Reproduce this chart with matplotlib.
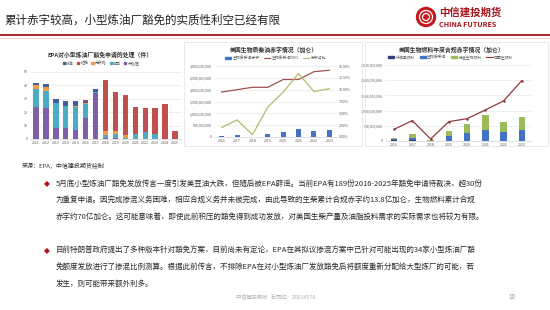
import matplotlib
matplotlib.use("Agg")
import matplotlib.pyplot as plt
import matplotlib.patches as mpatches
import numpy as np

plt.rcParams['font.family'] = ['Noto Sans CJK SC', 'DejaVu Sans']

# ---- chart 1: EPA small refinery exemption decisions (count)
years1 = ['2011', '2012', '2013', '2014', '2015', '2016', '2017', '2018',
          '2019', '2020', '2021', '2022', '2023', '2024', '2025']
s1_names = ['批准', '拒绝', '无资格', '撤回', '未处理']
purple = [24, 23, 8, 8, 7, 16, 34, 1, 1, 0, 0, 0, 0, 0, 0]
teal = [13, 13, 19, 17, 17, 10, 1, 2, 3, 1, 4, 5, 4, 0, 0]
orange = [3, 3, 0, 0, 1, 1, 0, 3, 2, 2, 0, 0, 0, 0, 0]
navy = [2, 2, 3, 3, 3, 1, 2, 0, 0, 0, 0, 0, 0, 0, 0]
red = [0, 0, 0, 0, 0, 1, 0, 38, 29, 30, 20, 18, 19, 26, 6]

# ---- chart 2: biomass-based diesel deficit (gallons)
years2 = ['2016', '2017', '2018', '2019', '2020', '2021', '2022', '2023']
bbd_deficit = [38e6, 72e6, 10e6, 132e6, 231e6, 326e6, 265e6, 288e6]
bbd_rvo = [1.90e9, 2.00e9, 2.10e9, 2.10e9, 2.43e9, 2.43e9, 2.76e9, 2.82e9]
deficit_pct = [2.0, 3.6, 0.5, 6.3, 9.5, 13.4, 9.6, 10.2]

# ---- chart 3: annual compliance deficit by category (gallons)
cellulosic = [20e6, 40e6, 5e6, 10e6, 10e6, 10e6, 10e6, 10e6]
bbd = [30e6, 60e6, 10e6, 140e6, 240e6, 360e6, 280e6, 360e6]
advanced = [40e6, 130e6, 15e6, 190e6, 310e6, 500e6, 350e6, 430e6]
renewable = [385e6, 670e6, 66e6, 637e6, 736e6, 1.02e9, 1.32e9, 1.99e9]

W, H = 550, 310
fig = plt.figure(figsize=(5.5, 3.1), dpi=100)
fig.patch.set_facecolor('white')


def px(x, y):
    return x / W, 1 - y / H


def axes_px(x0, y0, x1, y1):
    return fig.add_axes([x0 / W, 1 - y1 / H, (x1 - x0) / W, (y1 - y0) / H])


def style(ax):
    for s in ['top', 'right', 'left']:
        ax.spines[s].set_visible(False)
    ax.spines['bottom'].set_color('#d0d0d0')
    ax.spines['bottom'].set_linewidth(0.5)
    ax.tick_params(length=0, labelsize=2.6, colors='#595959', pad=1.5)
    ax.grid(axis='y', color='#e4e4e4', linewidth=0.4)
    ax.set_axisbelow(True)


# header
fig.text(*px(4, 20), '累计赤字较高，小型炼油厂豁免的实质性利空已经有限',
         fontsize=8.3, color='#222222', va='center', ha='left')
fig.add_artist(plt.Line2D([0, 1], [1 - 35 / H] * 2, color='#a3151b', lw=1.3))
fig.add_artist(plt.Line2D([0, 1], [1 - 37.5 / H] * 2, color='#f0d5d5', lw=0.8))

# logo
lx, ly = px(426, 17)
fig.add_artist(mpatches.Ellipse((lx, ly), 19 / W, 19 / H, color='#c8161d'))
for r in [6.5, 3.5]:
    fig.add_artist(mpatches.Ellipse((lx, ly), 2 * r / W, 2 * r / H, fill=False,
                                    ec='white', lw=0.9))
fig.text(*px(439, 13), '中信建投期货', fontsize=7.5, color='#a3151b',
         va='center', ha='left', fontweight='bold')
fig.text(*px(439, 24.5), 'CHINA FUTURES', fontsize=5.2, color='#a3151b',
         va='center', ha='left', fontweight='bold')

# ---- chart 1
ax1 = axes_px(30, 72, 181, 139)
style(ax1)
x = np.arange(len(years1))
stack = [(purple, '#7f5fa8'), (teal, '#4bacc6'), (orange, '#f39c4a'),
         (navy, '#3f5f9f'), (red, '#c0504d')]
bottom = np.zeros(len(years1))
for vals, c in stack:
    ax1.bar(x, vals, 0.55, bottom=bottom, color=c)
    bottom += np.array(vals)
ax1.set_ylim(0, 50)
ax1.set_yticks(range(0, 51, 10))
ax1.set_xlim(-0.6, len(years1) - 0.4)
ax1.set_xticks(x)
ax1.set_xticklabels(years1)
fig.text(*px(100, 55), 'EPA对小型炼油厂豁免申请的处理（件）', fontsize=4.2,
         fontweight='bold', color='#333333', ha='center', va='center')
leg_cols1 = ['#3f5f9f', '#c0504d', '#f39c4a', '#4bacc6', '#7f5fa8']
h1 = [mpatches.Patch(color=c) for c in leg_cols1]
ax1.legend(h1, s1_names, loc='center', bbox_to_anchor=(0.47, 1.13), ncol=5,
           frameon=False, fontsize=2.8, handlelength=0.6, handleheight=0.6,
           columnspacing=0.8, handletextpad=0.3, labelcolor='#595959')

# ---- chart 2
fig.add_artist(mpatches.Rectangle(px(184, 146), 178 / W, 104 / H, fill=False,
                                  ec='#e2e2e2', lw=0.5))
ax2 = axes_px(214, 66, 337, 137)
style(ax2)
x2 = np.arange(len(years2))
ax2.bar(x2, bbd_deficit, 0.33, color='#4472c4')
ax2.plot(x2, bbd_rvo, color='#a0504d', lw=0.9)
ax2.set_ylim(0, 3e9)
ax2.set_yticks(np.arange(0, 3.01e9, 5e8))
ax2.yaxis.set_major_formatter(matplotlib.ticker.FuncFormatter(lambda v, p: f'{v:,.0f}'))
ax2.set_xlim(-0.5, len(years2) - 0.5)
ax2.set_xticks(x2)
ax2.set_xticklabels(years2)
ax2b = ax2.twinx()
ax2b.plot(x2, deficit_pct, color='#b5b86a', lw=0.9)
ax2b.set_ylim(0, 15)
ax2b.set_yticks(np.arange(0, 15.1, 2.5))
ax2b.yaxis.set_major_formatter(matplotlib.ticker.FuncFormatter(lambda v, p: f'{v:.2f}%'))
for s in ax2b.spines.values():
    s.set_visible(False)
ax2b.tick_params(length=0, labelsize=2.6, colors='#595959', pad=1.5)
fig.text(*px(274, 50), '美国生物质柴油赤字情况（加仑）', fontsize=4.2,
         fontweight='bold', color='#333333', ha='center', va='center')
h2 = [mpatches.Patch(color='#4472c4'), plt.Line2D([], [], color='#a0504d', lw=0.8),
      plt.Line2D([], [], color='#b5b86a', lw=0.8)]
ax2.legend(h2, ['生物质柴油赤字', '生物质柴油RVO', '赤字占比'], loc='center',
           bbox_to_anchor=(0.5, 1.11), ncol=3, frameon=False, fontsize=2.8,
           handlelength=1.6, handleheight=0.5, columnspacing=1.2,
           handletextpad=0.3, labelcolor='#595959')

# ---- chart 3
fig.add_artist(mpatches.Rectangle(px(365, 146), 183 / W, 104 / H, fill=False,
                                  ec='#e2e2e2', lw=0.5))
ax3 = axes_px(385, 65, 531, 141)
style(ax3)
b = np.zeros(len(years2))
for vals, c in [(cellulosic, '#2f3f7a'), (bbd, '#4472c4'), (advanced, '#9bbb59')]:
    ax3.bar(x2, vals, 0.35, bottom=b, color=c)
    b += np.array(vals)
ax3.plot(x2, renewable, color='#8e3a3a', lw=0.9, marker='o', markersize=0.8)
ax3.set_ylim(0, 2.5e9)
ax3.set_yticks(np.arange(0, 2.51e9, 5e8))
ax3.yaxis.set_major_formatter(matplotlib.ticker.FuncFormatter(lambda v, p: f'{v:,.0f}'))
ax3.set_xlim(-0.5, len(years2) - 0.5)
ax3.set_xticks(x2)
ax3.set_xticklabels(years2)
fig.text(*px(452, 50), '美国生物燃料年度合规赤字情况（加仑）', fontsize=4.2,
         fontweight='bold', color='#333333', ha='center', va='center')
h3 = [mpatches.Patch(color='#2f3f7a'), mpatches.Patch(color='#4472c4'),
      mpatches.Patch(color='#9bbb59'), plt.Line2D([], [], color='#8e3a3a', lw=0.8)]
ax3.legend(h3, ['纤维素燃料', '生物质柴油', '先进生物燃料', '可再生燃料'],
           loc='center', bbox_to_anchor=(0.45, 1.1), ncol=4, frameon=False,
           fontsize=2.8, handlelength=1.6, handleheight=0.5, columnspacing=1.2,
           handletextpad=0.3, labelcolor='#595959')

# source
fig.text(*px(22, 166), '来源：EPA，中信建投期货绘制', fontsize=4.3,
         color='#333333', va='center', ha='left')

# bullets
para1 = ['5月底小型炼油厂豁免发放传言一度引发美豆油大跌，但随后被EPA辟谣。当前EPA有189份2016-2025年豁免申请待裁决，超30份',
         '为重复申请。因完成掺混义务困难，相应合规义务并未被完成，由此导致的生柴累计合规赤字约13.8亿加仑，生物燃料累计合规',
         '赤字约70亿加仑。这可能意味着，即使此前积压的豁免得到成功发放，对美国生柴产量及油脂投料需求的实际需求也将较为有限。']
para2 = ['目前特朗普政府提出了多种版本针对豁免方案，目前尚未有定论，EPA在其拟议掺混方案中已针对可能出现的34家小型炼油厂豁',
         '免额度发放进行了掺混比例测算。根据此前传言，不排除EPA在对小型炼油厂发放豁免后将额度重新分配给大型炼厂的可能，若',
         '发生，则可能带来额外利多。']
for y0, para in [(184, para1), (251, para2)]:
    fig.text(*px(47, y0), '◆', fontsize=5.5, color='#b0141b', ha='center',
             va='center', family=['DejaVu Sans'])
    for i, line in enumerate(para):
        fig.text(*px(56, y0 + i * 16.3), line, fontsize=5.45, color='#2a2a2a',
                 ha='left', va='center')

# footer
fig.text(*px(236, 298), '中信建投期货   石丽红：Z0014570', fontsize=3.8,
         color='#b0b0b0', ha='left', va='center')
fig.text(*px(508, 297), '10', fontsize=4.5, color='#909090', ha='left',
         va='center')

fig.savefig('out.png', dpi=100, facecolor='white')
